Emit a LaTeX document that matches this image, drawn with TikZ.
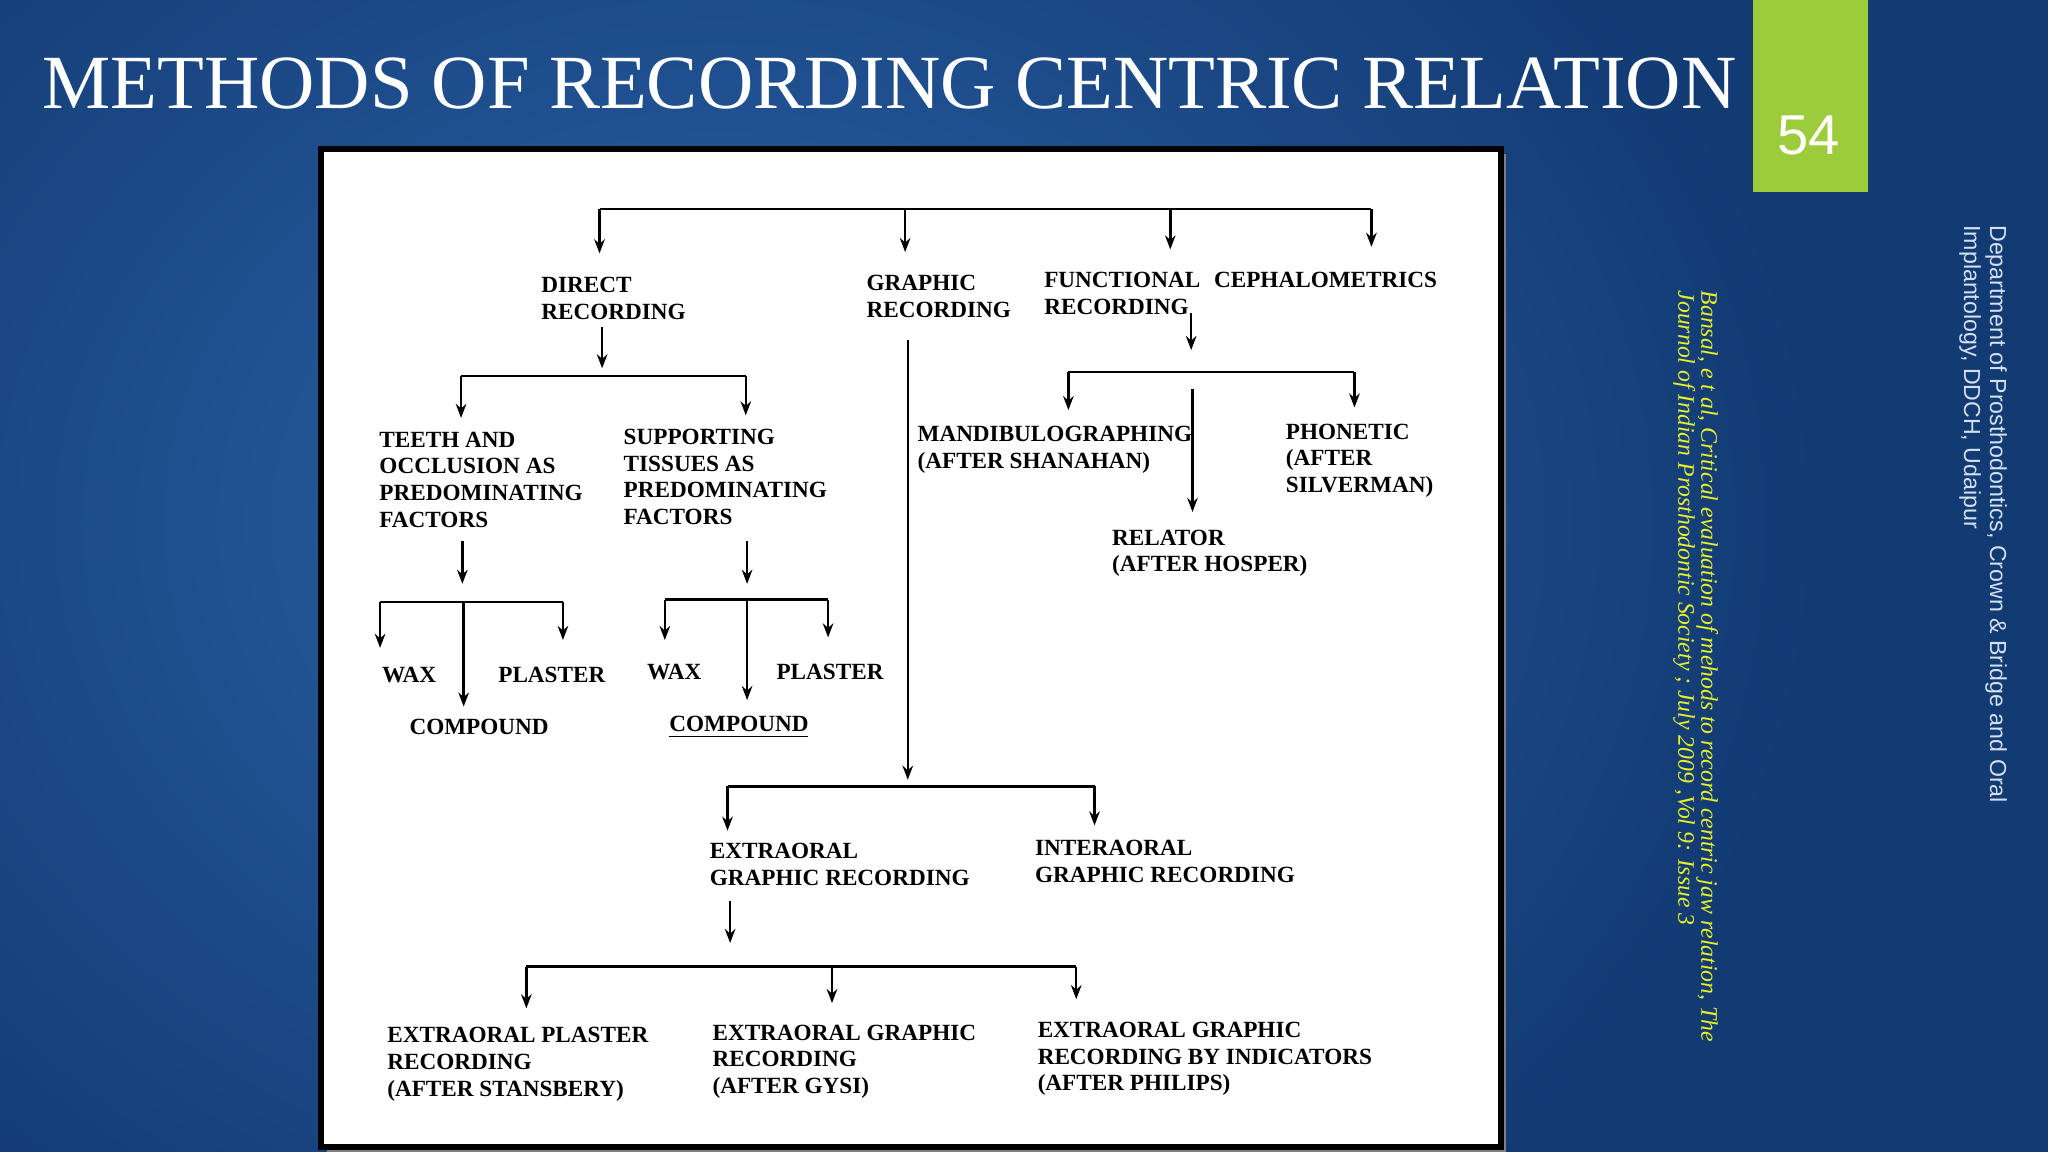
\documentclass[tikz,border=0pt]{standalone}
\usepackage{fontspec}
\setmainfont{Liberation Serif}
\newfontfamily\sans{Liberation Sans}
\usetikzlibrary{arrows.meta}
\definecolor{bgmid}{HTML}{2C63A8}
\definecolor{bgdark}{HTML}{123A73}
\definecolor{lime}{HTML}{9CCB3B}
\definecolor{cite}{HTML}{E8F02A}
\begin{document}
\begin{tikzpicture}[x=0.01306cm,y=-0.01306cm,
  lbl/.style={anchor=north west,inner sep=0pt,align=left,font=\fontsize{6.6}{7.6}\selectfont\bfseries},
  arr/.style={-{Stealth[length=4pt,width=3pt]},line width=0.7pt},
  bar/.style={line width=0.7pt}]
\useasboundingbox (0,0) rectangle (1568,882);
\fill[bgdark] (0,0) rectangle (1568,882);
\shade[inner color=bgmid,outer color=bgdark] (-300,-300) rectangle (1400,1100);
% title
\node[anchor=west,text=white,inner sep=0pt,font=\fontsize{21.8}{23}\selectfont] (title) at (32,64) {METHODS OF RECORDING CENTRIC RELATION};
\fill[lime] (1342,0) rectangle (1430,147);
\node[text=white,font=\sans\fontsize{16}{18}\selectfont] (num) at (1385,104) {54};
% side texts
\node[rotate=-90,anchor=north west,inner sep=0pt,align=left,text=white!80!bgmid,font=\sans\fontsize{6.6}{7.4}\selectfont] (dept) at (1537,172) {Department of Prosthodontics, Crown \& Bridge and Oral\\Implantology, DDCH, Udaipur};
\node[rotate=-90,anchor=north west,inner sep=0pt,align=left,text=cite,font=\itshape\fontsize{6.75}{6.6}\selectfont] (cit) at (1316,222) {Bansal, e t al, Critical evaluation of mehods to record centric jaw relation, The\\Journol of Indian Prosthodontic Society ; July 2009 ,Vol 9: Issue 3};
% panel
\fill[black!50] (250,118) rectangle (1153,882);
\draw[fill=white,line width=1.6pt] (246,114) rectangle (1149,878);
% labels
\node[lbl] (direct) at (414,212) {DIRECT\\RECORDING};
\node[lbl] (graphic) at (663,210) {GRAPHIC\\RECORDING};
\node[lbl] (func) at (799,208) {FUNCTIONAL\\RECORDING};
\node[lbl] (ceph) at (929,208) {CEPHALOMETRICS};
\node[lbl] (teeth) at (290,330) {TEETH AND\\OCCLUSION AS\\PREDOMINATING\\FACTORS};
\node[lbl] (supp) at (477,328) {SUPPORTING\\TISSUES AS\\PREDOMINATING\\FACTORS};
\node[lbl] (wax1) at (292,510) {WAX};
\node[lbl] (pl1) at (381,510) {PLASTER};
\node[lbl] (co1) at (313,550) {COMPOUND};
\node[lbl] (wax2) at (495,508) {WAX};
\node[lbl] (pl2) at (594,508) {PLASTER};
\node[lbl] (co2) at (512,548) {COMPOUND};
\node[lbl] (extra) at (543,645) {EXTRAORAL\\GRAPHIC RECORDING};
\node[lbl] (inter) at (792,643) {INTERAORAL\\GRAPHIC RECORDING};
\node[lbl] (stans) at (296,786) {EXTRAORAL PLASTER\\RECORDING\\(AFTER STANSBERY)};
\node[lbl] (gysi) at (545,784) {EXTRAORAL GRAPHIC\\RECORDING\\(AFTER GYSI)};
\node[lbl] (phil) at (794,782) {EXTRAORAL GRAPHIC\\RECORDING BY INDICATORS\\(AFTER PHILIPS)};
\node[lbl] (mand) at (702,326) {MANDIBULOGRAPHING\\(AFTER SHANAHAN)};
\node[lbl] (phon) at (984,324) {PHONETIC\\(AFTER\\SILVERMAN)};
\node[lbl] (rel) at (851,405) {RELATOR\\(AFTER HOSPER)};
% top bar
\draw[bar] (459,160) -- (1050,160);
\foreach \x/\y in {459/194,693/193,896/191,1050/189} \draw[arr] (\x,160) -- (\x,\y);
% direct
\draw[arr] (461,250) -- (461,282);
\draw[bar] (353,288) -- (571,288);
\draw[arr] (353,288) -- (353,320); \draw[arr] (571,288) -- (571,318);
\draw[arr] (354,414) -- (354,447); \draw[arr] (572,414) -- (572,447);
\draw[bar] (291,461) -- (431,461);
\draw[arr] (291,461) -- (291,496); \draw[arr] (431,461) -- (431,490); \draw[arr] (355,461) -- (355,541);
\draw[bar] (509,459) -- (634,459);
\draw[arr] (509,459) -- (509,490); \draw[arr] (634,459) -- (634,488); \draw[arr] (572,459) -- (572,536);
\draw[line width=0.4pt] (512,564) -- (619,564);
% graphic
\draw[arr] (695,260) -- (695,597);
\draw[bar] (557,602) -- (838,602);
\draw[arr] (557,602) -- (557,636); \draw[arr] (838,602) -- (838,632);
\draw[arr] (559,690) -- (559,722);
\draw[bar] (403,740) -- (824,740);
\draw[arr] (403,740) -- (403,772); \draw[arr] (637,740) -- (637,768); \draw[arr] (824,740) -- (824,765);
% functional
\draw[arr] (912,240) -- (912,268);
\draw[bar] (818,285) -- (1037,285);
\draw[arr] (818,285) -- (818,314); \draw[arr] (1037,285) -- (1037,312);
\draw[arr] (913,298) -- (913,392);
\end{tikzpicture}
\end{document}
